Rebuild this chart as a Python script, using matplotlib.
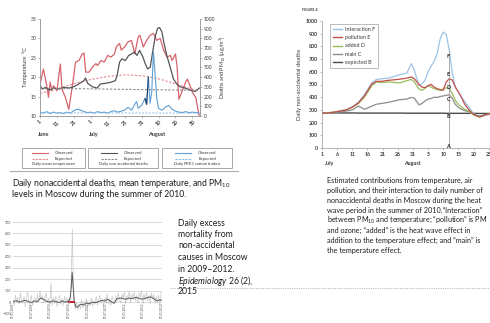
import numpy as np
import matplotlib
matplotlib.use("Agg")
import matplotlib.pyplot as plt
from matplotlib.patches import Rectangle
from matplotlib.lines import Line2D

plt.rcParams['font.family'] = ['Lato', 'DejaVu Sans']
plt.rcParams['mathtext.fontset'] = 'custom'
plt.rcParams['mathtext.rm'] = 'Lato'
plt.rcParams['mathtext.it'] = 'Lato:italic'

# ---------------- data: Moscow summer 2010 (days from 1 June) ----------------
temp_days = [0,2,4,5,6,7,8,10,12,13,15,17,19,21,23,25,26,27,29,31,33,34,36,38,40,42,44,45,47,48,
             50,52,54,55,56,58,59,61,63,65,67,68,69,71,73,75,77,78,80,81,82,84,86,87,89,90,92,94]
temp_obs = [18.2,22.1,17.8,14.8,18.7,16.5,17.8,16.5,23.4,16.9,14.8,11.7,17.4,23.9,24.3,26.0,26.2,21.3,21.3,22.6,
            23.5,23.0,24.3,23.9,25.6,25.2,26.0,27.8,28.7,27.0,27.8,29.1,29.5,27.8,26.0,30.4,30.8,27.8,29.5,30.8,
            31.3,30.4,29.5,30.0,27.0,25.2,25.6,24.3,26.0,22.6,14.3,16.5,18.7,19.5,17.4,16.1,14.8,10.0]
temp_exp_days = [0,10,20,30,40,50,60,70,80,90,94]
temp_exp = [15.8,17.0,18.3,19.4,20.2,20.6,20.4,19.6,18.3,16.9,16.4]

death_days = [0,1.4,3.3,5.3,8.2,11.2,14.1,17.1,20,22.9,25.9,26.9,28.2,30.8,33.7,35.7,38.6,41.6,44.5,45.5,
              47,48.4,50.4,52.4,54.3,55.7,57.3,58.8,60.8,62.2,63.5,65.1,66.7,68,69.4,70.6,72,73.3,74.9,76.9,
              78.8,80.8,82.7,85.7,88.6,91.6,94.1]
death_obs = [312,278,295,267,288,278,295,288,302,330,364,392,337,302,288,330,337,347,364,416,
             555,590,572,625,642,659,625,677,607,538,486,503,677,815,902,912,867,746,625,503,
             382,330,302,288,267,253,288]
death_exp_days = [0,30,60,94]
death_exp = [285,280,272,266]

pm_days = [0,2,4,6,8,10,12,14,16,18,20,22,24,26,28,30,32,34,36,38,40,42,44,46,48,50,52,54,56,57,58,
           60,62,63,64,65,66,67,68,69,70,72,74,76,78,80,82,84,86,88,90,94]
pm_obs = [40,30,45,25,40,30,35,25,40,30,55,70,60,45,35,40,30,45,35,40,30,45,55,40,50,60,90,60,120,150,80,
          110,180,120,400,130,250,660,420,180,80,60,90,110,70,50,40,35,45,35,40,30]
pm_exp_days = [0,94]
pm_exp = [32,30]

temp_ticks = [0,10,20,30,40,50,60,70,80,90]
temp_ticklabels = ['1','11','21','1','11','21','31','10','20','30']

# ---------------- data: FIGURE 4 (days from 1 July) ----------------
f4_days = [0,4,8,10,12,14,16.5,18,19.5,22,25.5,28,29.5,30.5,32,33,34,35,36,37,38,39,40,41,42,43,44,45,46,47,48.5,50,52,54,56,58]
interaction_F = [272,283,302,325,360,420,515,540,545,550,575,590,664,610,493,505,533,600,645,680,743,860,913,895,770,590,480,440,402,370,320,270,244,258,270,275]
pollution_E = [272,282,300,322,355,410,505,525,525,533,541,550,559,545,500,480,475,490,501,480,467,460,454,520,546,535,480,441,400,349,300,265,244,262,272,275]
added_D = [272,282,300,320,350,400,493,520,515,520,512,530,540,520,465,454,470,493,480,467,460,454,465,475,467,430,375,345,323,305,290,260,244,262,272,275]
main_C = [272,280,290,300,330,305,330,345,350,360,380,385,398,392,340,350,370,385,390,400,398,405,410,415,420,390,345,320,305,295,285,265,252,262,272,275]
expected_B = [276,276,276,276,275,275,275,275,275,275,275,274,274,274,274,274,274,274,274,274,274,274,274,273,273,273,273,273,273,273,273,273,272,272,272,272]
f4_ticks = [0,5,10,15,20,25,30,35,40,45,50,55]
f4_ticklabels = ['1','6','11','16','21','26','31','5','10','15','20','25']
f4_marker_day = 42
f4_letters = ['F','E','D','C','B','A']
f4_letter_vals = [717,580,475,380,250,15]

# ---------------- data: daily excess mortality 2009-2012 (days from 1 Jan 2009) ----------------
excess_step = 12
excess_vals = [20,-30,60,0,40,-20,80,10,-10,50,-40,30,90,-20,10,60,-30,20,40,-10,
               70,0,100,20,60,-10,40,80,0,30,-20,165,-30,40,-10,50,-40,20,60,-20,
               30,-30,50,0,40,-20,30,10,0,0,0,-60,0,-70,-20,-60,20,-50,10,-40,
               30,-50,0,-30,40,-40,10,-20,50,-30,20,60,-10,30,-40,40,0,70,-20,30,
               -30,50,10,-20,60,0,80,20,-10,70,30,90,0,60,20,100,-10,70,30,90,
               10,60,-10,80,40,100,0,70,20,90,10,60,-20,80,30,70,-10,50,0,60,-30,90]
spike_days = [558,566,572,578,582,586,592,598,606]
spike_vals = [0,60,250,480,640,420,200,40,-40]
smooth_days = [0,30,60,90,120,150,180,210,240,270,300,330,360,390,420,450,480,510,540,560,570,580,590,600,615,
               630,660,690,720,750,780,810,840,870,900,930,960,990,1020,1050,1080,1110,1140,1170,1200,1230,
               1260,1290,1320,1350,1380,1410,1440,1460]
smooth_vals = [5,12,0,8,15,5,-5,10,5,35,25,5,0,10,5,-5,10,0,5,30,120,260,130,10,-40,
               -45,-20,-25,-10,-15,0,-5,5,15,10,25,5,-10,30,35,30,25,35,30,40,35,
               25,30,40,45,30,10,20,15]
baseline_days = [545,600]
baseline_vals = [-3,-3]
excess_ticks = [0,181,365,546,730,911,1095,1276,1461]
excess_ticklabels = ['01.01.2009','01.07.2009','01.01.2010','01.07.2010','01.01.2011',
                     '01.07.2011','01.01.2012','01.07.2012','01.01.2013']

caption1 = ["Daily nonaccidental deaths, mean temperature, and PM$_{10}$",
            "levels in Moscow during the summer of 2010."]
caption2 = ["Daily excess", "mortality from", "non-accidental", "causes in Moscow",
            "in 2009\u20132012."]
caption3 = ["Estimated contributions from temperature, air",
            "pollution, and their interaction to daily number of",
            "nonaccidental deaths in Moscow during the heat",
            "wave period in the summer of 2010.\u201cInteraction\u201d",
            "between PM$_{10}$ and temperature; \u201cpollution\u201d is PM",
            "and ozone; \u201cadded\u201d is the heat wave effect in",
            "addition to the temperature effect; and \u201cmain\u201d is",
            "the temperature effect."]

# ---------------- layout helpers ----------------
W, H = 490, 323
fig = plt.figure(figsize=(W/100, H/100), dpi=100)
fig.patch.set_facecolor('white')

def ax_px(l, t, r, b):
    return fig.add_axes([l/W, 1-b/H, (r-l)/W, (b-t)/H])

def ftext(x, y, s, **kw):
    fig.text(x/W, 1-y/H, s, **kw)

TXT = '#1e1e1e'
TICK = '#3a3a3a'

# ---------------- chart 1: Moscow summer 2010 ----------------
RED = '#d7636b'
GRAY = '#555555'
BLUE = '#5f9fd3'
ax1 = ax_px(40, 19, 200, 116)
ax1.plot(temp_days, temp_obs, color=RED, lw=0.9)
ax1.plot(temp_exp_days, temp_exp, color='#e3878d', lw=0.8, ls=(0, (2, 1.5)))
ax1.set_xlim(0, 94.5)
ax1.set_ylim(10, 35)
ax1.set_yticks([10,15,20,25,30,35])
ax1.set_xticks(temp_ticks)
ax1.set_xticklabels(temp_ticklabels, rotation=45, fontsize=3.6, color=TICK, fontweight='bold')
ax1.tick_params(axis='both', labelsize=3.6, length=1.5, width=0.4, colors='#888888', pad=1,
                labelcolor=TICK)
ax1.set_ylabel('Temperature  \u00b0C', fontsize=4, color=TICK, labelpad=2)
ax1.spines['top'].set_visible(False)
for s in ['left','bottom','right']:
    ax1.spines[s].set_color('#999999')
    ax1.spines[s].set_linewidth(0.5)
ax1b = ax1.twinx()
ax1b.plot(death_days, death_obs, color=GRAY, lw=0.9)
ax1b.plot(death_exp_days, death_exp, color='#8a8a8a', lw=0.8, ls=(0, (2, 1.5)))
ax1b.plot(pm_days, pm_obs, color=BLUE, lw=0.8)
ax1b.plot(pm_days[32:35], pm_obs[32:35], color='#1f3f6e', lw=0.8)
ax1b.plot(pm_exp_days, pm_exp, color='#8fb9df', lw=0.7, ls=(0, (2, 1.5)))
ax1b.set_ylim(0, 1000)
ax1b.set_yticks(range(0, 1001, 100))
ax1b.tick_params(axis='y', labelsize=3.6, length=1.5, width=0.4, colors='#888888', pad=1,
                 labelcolor=TICK)
ax1b.set_ylabel('Deaths and PM$_{10}$ (\u00b5g/m$^{3}$)', fontsize=4, color=TICK, labelpad=2)
ax1b.spines['top'].set_visible(False)
for s in ['left','bottom','right']:
    ax1b.spines[s].set_color('#999999')
    ax1b.spines[s].set_linewidth(0.5)
for lab, xx in [('June', 44), ('July', 94), ('August', 157)]:
    ftext(xx, 135, lab, fontsize=4, color=TICK, fontweight='bold', ha='center', va='center')

# legend boxes under chart 1
boxes = [(22, 85, RED, '#e3878d', 'Daily mean temperature'),
         (88, 158, GRAY, '#8a8a8a', 'Daily non accidental deaths'),
         (162, 232, BLUE, '#8fb9df', 'Daily PM$_{10}$ concentration')]
for (l, r, c1, c2, name) in boxes:
    fig.patches.append(Rectangle((l/W, 1-168/H), (r-l)/W, 20/H, transform=fig.transFigure,
                                 fill=False, ec='#9a9a9a', lw=0.6))
    mid = (l + r) / 2
    fig.add_artist(Line2D([(mid-22)/W, (mid-6)/W], [1-153/H]*2, color=c1, lw=0.8))
    fig.add_artist(Line2D([(mid-22)/W, (mid-6)/W], [1-159/H]*2, color=c2, lw=0.8, ls=(0, (2, 1))))
    ftext(mid+10, 153, 'Observed', fontsize=3.2, color=TICK, ha='center', va='center')
    ftext(mid+10, 159, 'Expected', fontsize=3.2, color=TICK, ha='center', va='center')
    ftext(mid, 164.5, name, fontsize=3.0, color=TICK, ha='center', va='center')
fig.add_artist(Line2D([10/W, 238/W], [1-171/H]*2, color='#b0b0b0', lw=0.8))

for i, line in enumerate(caption1):
    ftext(12, 183 + i*11.5, line, fontsize=6.2, color=TXT, ha='left', va='center')

# ---------------- chart 2: FIGURE 4 ----------------
ax2 = ax_px(322, 21, 322 + 58*3.03, 148)
c_F, c_E, c_D, c_C, c_B = '#9cc3e6', '#c0504d', '#9bbb59', '#8c8c8c', '#4a4a4a'
ax2.plot(f4_days, expected_B, color=c_B, lw=1.0)
ax2.plot(f4_days, main_C, color=c_C, lw=0.9)
ax2.plot(f4_days, interaction_F, color=c_F, lw=0.9)
ax2.plot(f4_days, added_D, color=c_D, lw=0.9)
ax2.plot(f4_days, pollution_E, color=c_E, lw=0.9)
ax2.vlines(f4_marker_day, 0, 760, color='#a0a0a0', lw=0.6)
for L, v in zip(f4_letters, f4_letter_vals):
    ax2.text(f4_marker_day - 0.3, v, L, fontsize=4, color='#222222', fontweight='bold',
             ha='center', va='center')
ax2.set_xlim(0, 58)
ax2.set_ylim(0, 1000)
ax2.set_yticks(range(0, 1001, 100))
ax2.set_xticks(f4_ticks)
ax2.set_xticklabels(f4_ticklabels)
ax2.tick_params(axis='both', labelsize=3.8, length=1.5, width=0.4, colors='#888888', pad=1.5,
                labelcolor=TICK)
for lab in ax2.get_xticklabels() + ax2.get_yticklabels():
    lab.set_fontweight('bold')
for s in ['top', 'right']:
    ax2.spines[s].set_visible(False)
for s in ['left', 'bottom']:
    ax2.spines[s].set_color('#999999')
    ax2.spines[s].set_linewidth(0.5)
ax2.set_ylabel('Daily non-accidental deaths', fontsize=4.2, color=TICK, labelpad=3)
handles = [Line2D([], [], color=c, lw=1.0) for c in [c_F, c_E, c_D, c_C, c_B]]
leg = ax2.legend(handles, ['Interaction F', 'pollution E', 'added D', 'main C', 'expected B'],
                 loc='upper left', bbox_to_anchor=(0.03, 1.0), fontsize=3.9, frameon=True,
                 handlelength=1.6, handletextpad=0.5, borderpad=0.6, labelspacing=0.6,
                 fancybox=False, edgecolor='#888888')
leg.get_frame().set_linewidth(0.5)
for t in leg.get_texts():
    t.set_color(TICK)
ftext(302, 10, 'FIGURE 4', fontsize=2.6, color=TICK, fontweight='bold', ha='left', va='center')
ftext(330, 164, 'July', fontsize=3.8, color=TICK, fontweight='bold', ha='center', va='center')
ftext(412, 164, 'August', fontsize=3.8, color=TICK, fontweight='bold', ha='center', va='center')

for i, line in enumerate(caption3):
    ftext(327, 180 + i*10.0, line, fontsize=5.25, color=TXT, ha='left', va='center')

# ---------------- chart 3: excess mortality 2009-2012 ----------------
ax3 = ax_px(13, 222, 162, 313.5)
ex_days = np.arange(len(excess_vals)) * excess_step
ex_vals = np.array(excess_vals, dtype=float)
keep = (ex_days < spike_days[0]) | (ex_days > spike_days[-1])
all_days = np.concatenate([ex_days[keep], spike_days])
all_vals = np.concatenate([ex_vals[keep], spike_vals])
order = np.argsort(all_days)
ax3.plot(all_days[order], all_vals[order], color='#c9c9c9', lw=0.5)
ax3.plot(smooth_days, smooth_vals, color='#5a5a5a', lw=0.7)
ax3.plot(baseline_days, baseline_vals, color='#c00000', lw=1.2)
ax3.set_xlim(0, 1461)
ax3.set_ylim(-100, 700)
ax3.set_yticks(range(-100, 701, 100))
ax3.set_xticks([])
ax3.grid(axis='y', color='#d4d4d4', lw=0.6)
ax3.set_axisbelow(True)
ax3.tick_params(axis='y', labelsize=2.6, length=0, pad=1.5, labelcolor='#555555')
for s in ax3.spines.values():
    s.set_visible(False)
for d, lab in zip(excess_ticks, excess_ticklabels):
    ax3.text(d, -6, lab, rotation=90, fontsize=2.2, color='#555555', ha='center', va='top',
             clip_on=False)
    ax3.vlines(d, -12, 12, color='#999999', lw=0.4)

ftext(178, 223, caption2[0], fontsize=6.2, color=TXT, ha='left', va='center')
for i, line in enumerate(caption2[1:]):
    ftext(178, 223 + (i+1)*11.5, line, fontsize=6.2, color=TXT, ha='left', va='center')
fig.text(178/W, 1-(223 + 5*11.5)/H, '$\\it{Epidemiology}$ 26 (2),', fontsize=6.2, color=TXT,
         ha='left', va='center')
ftext(178, 223 + 6*11.5, '2015', fontsize=6.2, color=TXT, ha='left', va='center')

fig.add_artist(Line2D([170/W, 490/W], [1-288/H]*2, color='#a9b8c9', lw=0.6, ls=(0, (1.5, 1.2))))

fig.savefig('out.png', dpi=100, facecolor='white')
